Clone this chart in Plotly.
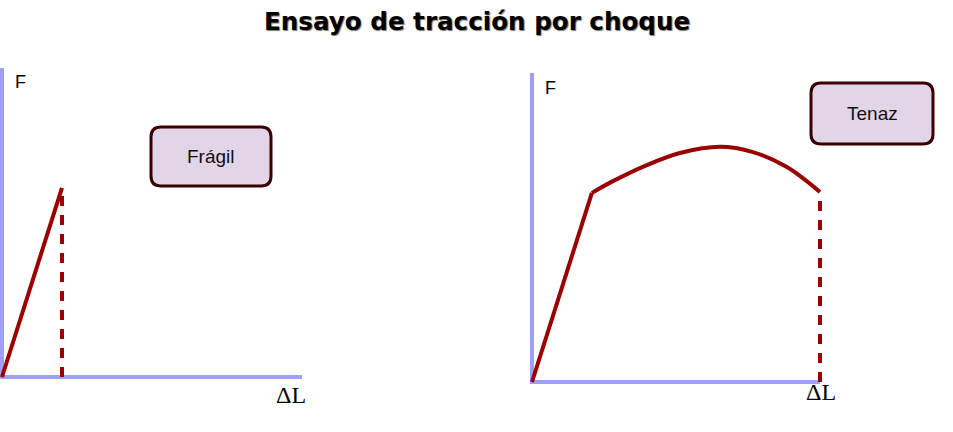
import plotly.graph_objects as go

W, H = 953, 432

title = "Ensayo de tracción por choque"

# Left panel (brittle) data, arbitrary units
fragil_dl = [0, 2.0]
fragil_f = [0, 6.12]
# Right panel (tough) data
tenaz_lin_dl = [0, 2.08]
tenaz_lin_f = [0, 6.12]
tenaz_curve_dl = [2.08, 2.81, 3.99, 5.14, 6.53, 7.67, 8.85, 10.0]
tenaz_curve_f = [6.12, 6.50, 7.02, 7.41, 7.61, 7.44, 6.96, 6.15]
axis_dl = [0, 0, 10]
axis_f = [10, 0, 0]

RED = "#990000"
AX = "#9f9fff"

fig = go.Figure()

def px2paper_x(p):
    return p / W

def px2paper_y(p):
    return 1 - p / H

def add_panel(xa, ya, ox, oy, sx, sy, dom_x, dom_y, dl, f, extra):
    fig.add_trace(go.Scatter(x=axis_dl, y=axis_f, mode="lines", xaxis=xa, yaxis=ya,
                             line=dict(color=AX, width=4), hoverinfo="skip"))
    for (xx, yy, shape) in extra:
        fig.add_trace(go.Scatter(x=xx, y=yy, mode="lines", xaxis=xa, yaxis=ya,
                                 line=dict(color=RED, width=4, shape=shape), hoverinfo="skip"))
    fig.add_trace(go.Scatter(x=[dl, dl], y=[0, f - 0.05], mode="lines", xaxis=xa, yaxis=ya,
                             line=dict(color=RED, width=4, dash="10px,9px"), hoverinfo="skip"))
    key_x = "xaxis" if xa == "x" else "xaxis" + xa[1:]
    key_y = "yaxis" if ya == "y" else "yaxis" + ya[1:]
    xr = [(dom_x[0] - ox) / sx, (dom_x[1] - ox) / sx]
    yr = [(oy - dom_y[1]) / sy, (oy - dom_y[0]) / sy]
    fig.update_layout({
        key_x: dict(domain=[px2paper_x(dom_x[0]), px2paper_x(dom_x[1])], range=xr,
                    visible=False, anchor=ya, fixedrange=True),
        key_y: dict(domain=[px2paper_y(dom_y[1]), px2paper_y(dom_y[0])], range=yr,
                    visible=False, anchor=xa, fixedrange=True),
    })

add_panel("x", "y", 2, 377, 30.0, 30.9, (0, 330), (40, 400),
          fragil_dl[-1], fragil_f[-1], [(fragil_dl, fragil_f, "linear")])
add_panel("x2", "y2", 532, 382, 28.8, 30.9, (505, 850), (40, 400),
          tenaz_curve_dl[-1], tenaz_curve_f[-1],
          [(tenaz_lin_dl, tenaz_lin_f, "linear"), (tenaz_curve_dl, tenaz_curve_f, "spline")])

def rrect(x0, y0, x1, y1, r):
    X0, X1 = px2paper_x(x0), px2paper_x(x1)
    Y0, Y1 = px2paper_y(y0), px2paper_y(y1)
    rx, ry = r / W, r / H
    return (f"M {X0+rx},{Y0} L {X1-rx},{Y0} Q {X1},{Y0} {X1},{Y0-ry} "
            f"L {X1},{Y1+ry} Q {X1},{Y1} {X1-rx},{Y1} L {X0+rx},{Y1} "
            f"Q {X0},{Y1} {X0},{Y1+ry} L {X0},{Y0-ry} Q {X0},{Y0} {X0+rx},{Y0} Z")

for (bx0, by0, bx1, by1, txt) in [(151, 127, 271, 186, "Frágil"), (811, 83, 933, 144, "Tenaz")]:
    fig.add_shape(type="path", path=rrect(bx0, by0, bx1, by1, 10), xref="paper", yref="paper",
                  fillcolor="#e1d5e7", line=dict(color="#3a0000", width=3))
    fig.add_annotation(x=px2paper_x((bx0 + bx1) / 2), y=px2paper_y((by0 + by1) / 2),
                       xref="paper", yref="paper", text=txt, showarrow=False,
                       xanchor="center", yanchor="middle",
                       font=dict(family="Liberation Sans, Arial", size=19, color="#111"))

labels = [
    ("F", 20, 82, "Liberation Sans, Arial", 18),
    ("F", 550, 88, "Liberation Sans, Arial", 18),
    ("ΔL", 291, 395, "Liberation Serif, Times New Roman", 24),
    ("ΔL", 821, 392, "Liberation Serif, Times New Roman", 24),
]
for t, x, y, fam, sz in labels:
    fig.add_annotation(x=px2paper_x(x), y=px2paper_y(y), xref="paper", yref="paper",
                       text=t, showarrow=False, xanchor="center", yanchor="middle",
                       font=dict(family=fam, size=sz, color="#000"))

fig.add_annotation(x=px2paper_x(477), y=px2paper_y(21), xref="paper", yref="paper",
                   text="<b>" + title + "</b>", showarrow=False,
                   xanchor="center", yanchor="middle",
                   font=dict(family="DejaVu Sans", size=24.6, color="#000",
                             shadow="1px 1px 1px #777"))

fig.update_layout(width=W, height=H, margin=dict(l=0, r=0, t=0, b=0),
                  paper_bgcolor="white", plot_bgcolor="rgba(0,0,0,0)", showlegend=False)

fig.write_html("out.html", config={"displayModeBar": False},
               post_script="document.body.style.margin='0';document.body.style.overflow='hidden';")
